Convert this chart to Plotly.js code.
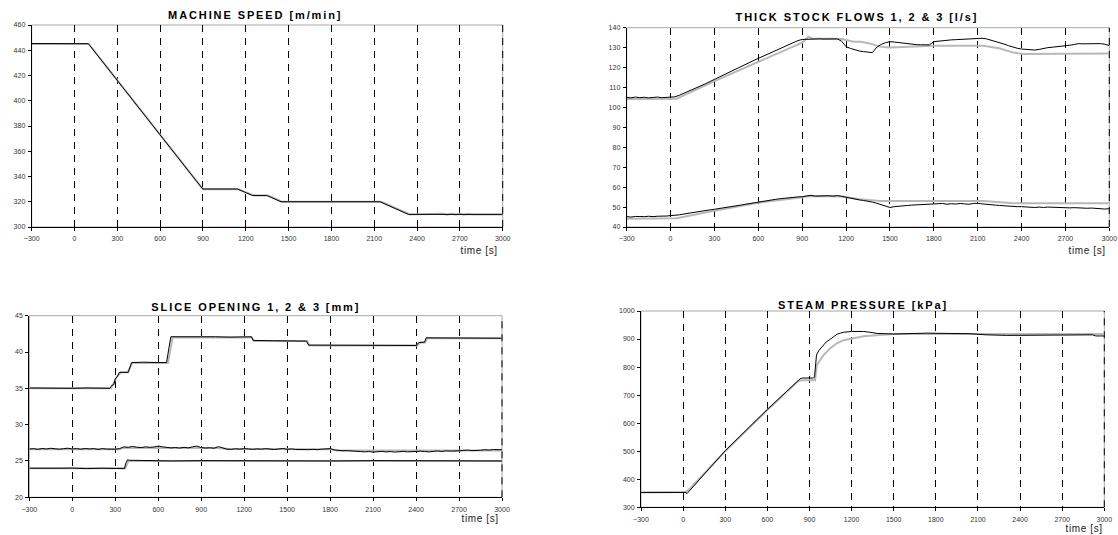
<!DOCTYPE html>
<html>
<head>
<meta charset="utf-8">
<script src="https://cdn.plot.ly/plotly-3.0.1.min.js"></script>
<style>
html,body{margin:0;padding:0;background:#fff;}
#chart{width:1118px;height:535px;}
.annotation[data-index="0"] text,.annotation[data-index="1"] text,.annotation[data-index="2"] text,.annotation[data-index="3"] text{letter-spacing:1.9px;}
.annotation[data-index="4"] text,.annotation[data-index="5"] text,.annotation[data-index="6"] text,.annotation[data-index="7"] text{letter-spacing:0.6px;}
.x3y3 .xtick text,.x3y3 .ytick text,.x4y4 .xtick text,.x4y4 .ytick text{letter-spacing:0.5px;}
</style>
</head>
<body>
<div id="chart"></div>
<script>
// ---------- tick labels ----------
const xTickVals = [-300,0,300,600,900,1200,1500,1800,2100,2400,2700,3000];
const speedTicks = [300,320,340,360,380,400,420,440,460];
const flowTicks = [40,50,60,70,80,90,100,110,120,130,140];
const sliceTicks = [20,25,30,35,40,45];
const steamTicks = [300,400,500,600,700,800,900,1000];

const titles = ["MACHINE SPEED [m/min]","THICK STOCK FLOWS 1, 2 & 3 [l/s]","SLICE OPENING 1, 2 & 3 [mm]","STEAM PRESSURE [kPa]"];
const timeLabel = "time [s]";

// ---------- shared time grid for noisy measurements ----------
const tGrid = [
 -300,-270,-240,-210,-180,-150,-120,-90,-60,-30,
 0,30,60,90,120,150,180,210,240,270,
 300,330,360,390,420,450,480,510,540,570,
 600,630,660,690,720,750,780,810,840,870,
 900,930,960,990,1020,1050,1080,1110,1140,1170,
 1200,1230,1260,1290,1320,1350,1380,1410,1440,1470,
 1500,1530,1560,1590,1620,1650,1680,1710,1740,1770,
 1800,1830,1860,1890,1920,1950,1980,2010,2040,2070,
 2100,2130,2160,2190,2220,2250,2280,2310,2340,2370,
 2400,2430,2460,2490,2520,2550,2580,2610,2640,2670,
 2700,2730,2760,2790,2820,2850,2880,2910,2940,2970,
 3000];

// ---------- machine speed ----------
const speedBlackT = [-300,-200,-100,0,97,898,1141,1246,1346,1447,2140,2339,2500,2700,3000];
const speedBlackY = [445.3,445.2,445.3,445.2,445.2,330.1,330.1,325,325,320,320,310,310,310,310];
const speedGrayT = [-300,100,900,1150,1255,1355,1455,2150,2350,2550,2580,2610,2640,2670,2700,2730,2760,2790,3000];
const speedGrayY = [445,445,330,330,325,325,320,320,310,310,310.4,309.8,310.4,309.8,310.4,309.8,310.3,310,310];

// ---------- thick stock flows ----------
const flowUpperBlack = [
 105.0,104.8,105.2,104.9,105.1,104.8,105.0,105.2,104.9,105.1,
 105.0,105.3,106.1,107.0,108.0,109.0,109.9,110.9,111.9,113.0,
 114.1,115.1,116.1,117.2,118.2,119.4,120.4,121.4,122.5,123.6,
 124.6,125.6,126.5,127.5,128.5,129.6,130.5,131.5,132.5,133.5,
 134.1,134.2,134.4,134.2,134.4,134.3,134.4,134.3,134.4,133.2,
 130.5,129.6,128.8,128.3,128.0,127.7,127.5,130.2,131.6,132.5,
 133.0,132.8,132.5,132.2,132.0,131.7,131.5,131.4,131.3,131.4,
 133.0,133.3,133.6,133.8,133.9,134.0,134.1,134.3,134.4,134.6,
 134.8,134.7,134.4,133.8,133.2,132.5,131.8,131.0,130.2,129.7,
 129.3,129.1,128.9,128.8,129.1,129.6,130.0,130.2,130.4,130.6,
 130.8,131.2,131.6,132.0,131.9,132.0,131.8,132.1,132.0,131.7,
 131.0];
const flowLowerBlack = [
 45.2,45.0,45.3,45.1,45.2,45.4,45.2,45.4,45.3,45.5,
 45.7,45.8,46.1,46.5,46.9,47.2,47.5,47.9,48.2,48.6,
 48.9,49.2,49.6,50.0,50.3,50.7,51.0,51.4,51.8,52.2,
 52.6,52.9,53.3,53.6,53.9,54.2,54.5,54.7,54.9,55.1,
 55.2,55.6,55.9,55.5,55.6,55.4,55.7,55.5,55.8,55.4,
 54.9,54.4,54.0,53.6,53.3,53.0,52.5,51.9,51.2,50.4,
 49.8,50.2,50.5,50.7,50.8,51.0,51.1,51.4,51.3,51.6,
 51.5,51.6,51.8,51.4,51.7,51.5,51.8,51.6,51.4,51.8,
 51.9,51.6,51.3,51.2,51.0,50.8,50.6,50.5,50.3,50.2,
 50.2,50.0,49.9,49.8,50.0,49.8,50.0,49.9,49.7,49.8,
 49.8,49.6,49.7,49.5,49.6,49.4,49.5,49.3,49.4,49.0,
 49.2];
const flowUpperGrayT = [-300,0,41,300,600,885,900,942,970,1170,1200,1250,1300,1363,1432,1500,1797,2139,2253,2344,2413,3000];
const flowUpperGrayY = [104.2,104.2,104.4,113.2,122.9,132.1,132.5,135.5,134.6,134.3,133.8,133.0,132.9,132.1,130.5,130.1,131.0,131.0,129.6,127.5,126.8,127.1];
const flowLowerGrayT = [-300,0,41,300,600,900,942,1170,1200,1296,1432,2139,2253,2344,3000];
const flowLowerGrayY = [44.2,44.3,44.4,48.2,52.2,54.9,55.5,55.3,54.9,53.9,53.0,53.0,52.4,51.9,51.9];

// ---------- slice opening ----------
const sliceTopBlackT = [-300,-200,-100,0,100,200,263,275,290,300,315,328,391,414,500,600,658,688,800,900,1000,1100,1251,1262,1400,1500,1635,1650,1800,2000,2200,2402,2418,2460,2470,2700,3000];
const sliceTopBlackY = [35.05,35.0,35.05,35.0,35.05,35.0,35.0,35.4,35.5,36.3,36.6,37.2,37.2,38.55,38.6,38.55,38.55,42.1,42.15,42.1,42.1,42.05,42.1,41.6,41.55,41.5,41.5,40.95,40.95,40.9,40.9,40.9,41.3,41.35,41.95,41.95,41.9];
const sliceTopGrayT = [-300,270,310,340,385,420,668,700,1255,1268,1640,1655,2410,2428,2462,2478,3000];
const sliceTopGrayY = [35,35,36.6,37.2,37.2,38.5,38.5,42,42,41.5,41.5,40.9,40.9,41.3,41.3,41.9,41.9];
const sliceMidBlack = [
 26.65,26.7,26.6,26.72,26.65,26.75,26.68,26.62,26.7,26.76,
 26.65,26.7,26.62,26.72,26.66,26.7,26.6,26.7,26.64,26.58,
 26.62,26.7,26.95,26.88,27.0,26.9,26.85,26.95,26.88,26.92,
 27.05,26.95,26.85,26.8,26.85,26.78,26.88,26.8,26.95,27.05,
 26.85,26.78,26.82,26.75,26.98,26.78,26.62,26.6,26.68,26.62,
 26.7,26.65,26.6,26.66,26.62,26.7,26.64,26.58,26.65,26.72,
 26.6,26.66,26.58,26.55,26.62,26.56,26.6,26.55,26.62,26.65,
 26.7,26.52,26.45,26.4,26.42,26.35,26.38,26.3,26.25,26.3,
 26.22,26.28,26.32,26.25,26.3,26.22,26.28,26.32,26.25,26.3,
 26.28,26.35,26.3,26.25,26.32,26.38,26.3,26.4,26.35,26.42,
 26.4,26.45,26.5,26.42,26.5,26.48,26.55,26.5,26.58,26.52,
 26.55];
const sliceMidGrayT = [-300,330,360,1000,1100,1800,1850,3000];
const sliceMidGrayY = [26.6,26.6,26.8,26.8,26.65,26.6,26.45,26.45];
const sliceLowBlackT = [-300,-200,-100,0,100,200,300,365,372,385,400,500,700,900,1200,1500,1800,2100,2400,2700,3000];
const sliceLowBlackY = [24.0,23.95,24.0,24.02,23.95,24.0,24.0,23.95,24.6,25.15,25.1,25.05,25.0,25.05,25.0,25.05,25.0,25.05,25.0,25.0,25.0];
const sliceLowGrayT = [-300,370,392,3000];
const sliceLowGrayY = [24,24,25,25];

// ---------- steam pressure ----------
const steamBlackT = [-300,-200,-100,0,19,28,300,600,833,850,929,936,950,965,983,1000,1020,1048,1070,1095,1120,1143,1200,1286,1333,1382,1500,1736,2043,2161,2303,2398,2681,2917,2940,3000];
const steamBlackY = [353,353,353,353,353,349,502,649,758,761,761,765,843,858,869,880,890,899,908,917,921,924,927,927,924,920,918,921,919,915,913,913,915,915,911,911];
const steamGrayT = [-300,0,20,45,300,600,820,850,940,952,1000,1048,1095,1143,1200,1286,1329,1405,1500,3000];
const steamGrayY = [353,353,355,365,500,647,750,753,753,807,843,867,885,896,902,910,912,915.5,918,918];

// ---------- styling ----------
const BLACK = '#000000', GRAY = '#b8b8b8';
const FONT = 'Liberation Sans, Arial, Helvetica, sans-serif';

function line(x, y, xa, ya, color, width) {
  return {type:'scatter', mode:'lines', x:x, y:y, xaxis:xa, yaxis:ya,
    line:{color:color, width:width}, hoverinfo:'skip', showlegend:false};
}

const data = [
  line(speedGrayT, speedGrayY, 'x', 'y', GRAY, 2),
  line(speedBlackT, speedBlackY, 'x', 'y', BLACK, 1),
  line(flowUpperGrayT, flowUpperGrayY, 'x2', 'y2', GRAY, 2),
  line(flowLowerGrayT, flowLowerGrayY, 'x2', 'y2', GRAY, 2),
  line(tGrid, flowUpperBlack, 'x2', 'y2', BLACK, 1),
  line(tGrid, flowLowerBlack, 'x2', 'y2', BLACK, 1),
  line(sliceTopGrayT, sliceTopGrayY, 'x3', 'y3', GRAY, 2),
  line(sliceMidGrayT, sliceMidGrayY, 'x3', 'y3', GRAY, 2),
  line(sliceLowGrayT, sliceLowGrayY, 'x3', 'y3', GRAY, 2),
  line(sliceTopBlackT, sliceTopBlackY, 'x3', 'y3', BLACK, 1),
  line(tGrid, sliceMidBlack, 'x3', 'y3', BLACK, 1),
  line(sliceLowBlackT, sliceLowBlackY, 'x3', 'y3', BLACK, 1),
  line(steamGrayT, steamGrayY, 'x4', 'y4', GRAY, 2),
  line(steamBlackT, steamBlackY, 'x4', 'y4', BLACK, 1)
];

const DASH = '7px,6px';
function xax(domain, anchor) {
  return {domain:domain, anchor:anchor, range:[-300,3000], tickmode:'array', tickvals:xTickVals,
    showgrid:true, gridcolor:BLACK, gridwidth:1, griddash:DASH,
    showline:true, linecolor:BLACK, linewidth:1, ticks:'outside', ticklen:3, tickcolor:BLACK,
    ticklabelstandoff:2,
    tickfont:{family:FONT, size:7, color:'#333'}, zeroline:false, fixedrange:true};
}
function yax(domain, anchor, range, ticks) {
  return {domain:domain, anchor:anchor, range:range, tickmode:'array', tickvals:ticks,
    showgrid:false, showline:true, linecolor:BLACK, linewidth:1, ticks:'outside', ticklen:3, tickcolor:BLACK,
    ticklabelstandoff:1,
    tickfont:{family:FONT, size:7, color:'#333'}, zeroline:false, fixedrange:true};
}

const W = 1118, H = 535;
const px = v => v / W, py = v => 1 - v / H;

const panels = [
  {x:[31.7,502.7], y:[25,227]},
  {x:[626.7,1109.3], y:[27.7,227]},
  {x:[29.3,502], y:[315.7,497.3]},
  {x:[641,1104.3], y:[311,507.3]}
];
const dom = panels.map(p => ({x:[px(p.x[0]), px(p.x[1])], y:[py(p.y[1]), py(p.y[0])]}));

const shapes = [];
['', '2', '3', '4'].forEach(s => {
  shapes.push({type:'rect', xref:'x'+s+' domain', yref:'y'+s+' domain', x0:0, x1:1, y0:0, y1:1,
    line:{color:'#a8a8a8', width:1}, layer:'below'});
  shapes.push({type:'line', xref:'x'+s+' domain', yref:'y'+s+' domain', x0:1, x1:1, y0:0, y1:1,
    line:{color:BLACK, width:1, dash:DASH}, layer:'below'});
});

const titlePos = [[255,15],[857,16.7],[256,306.7],[863,305]];
const timePos = [[479,250],[1086.7,250],[480,518.3],[1084,528.5]];
const annotations = [];
titles.forEach((t, i) => annotations.push({text:'<b>'+t+'</b>', xref:'paper', yref:'paper',
  x:px(titlePos[i][0]), y:py(titlePos[i][1]), xanchor:'center', yanchor:'middle', showarrow:false,
  font:{family:FONT, size:11, color:BLACK}}));
timePos.forEach(p => annotations.push({text:timeLabel, xref:'paper', yref:'paper',
  x:px(p[0]), y:py(p[1]), xanchor:'center', yanchor:'middle', showarrow:false,
  font:{family:FONT, size:10, color:'#222'}}));

const layout = {
  width:W, height:H, margin:{l:0, r:0, t:0, b:0},
  paper_bgcolor:'#fff', plot_bgcolor:'#fff', showlegend:false,
  xaxis:xax(dom[0].x, 'y'), yaxis:yax(dom[0].y, 'x', [300,460], speedTicks),
  xaxis2:xax(dom[1].x, 'y2'), yaxis2:yax(dom[1].y, 'x2', [40,140], flowTicks),
  xaxis3:xax(dom[2].x, 'y3'), yaxis3:yax(dom[2].y, 'x3', [20,45], sliceTicks),
  xaxis4:xax(dom[3].x, 'y4'), yaxis4:yax(dom[3].y, 'x4', [300,1000], steamTicks),
  shapes:shapes, annotations:annotations
};

Plotly.newPlot('chart', data, layout, {staticPlot:true, displayModeBar:false});
</script>
</body>
</html>
